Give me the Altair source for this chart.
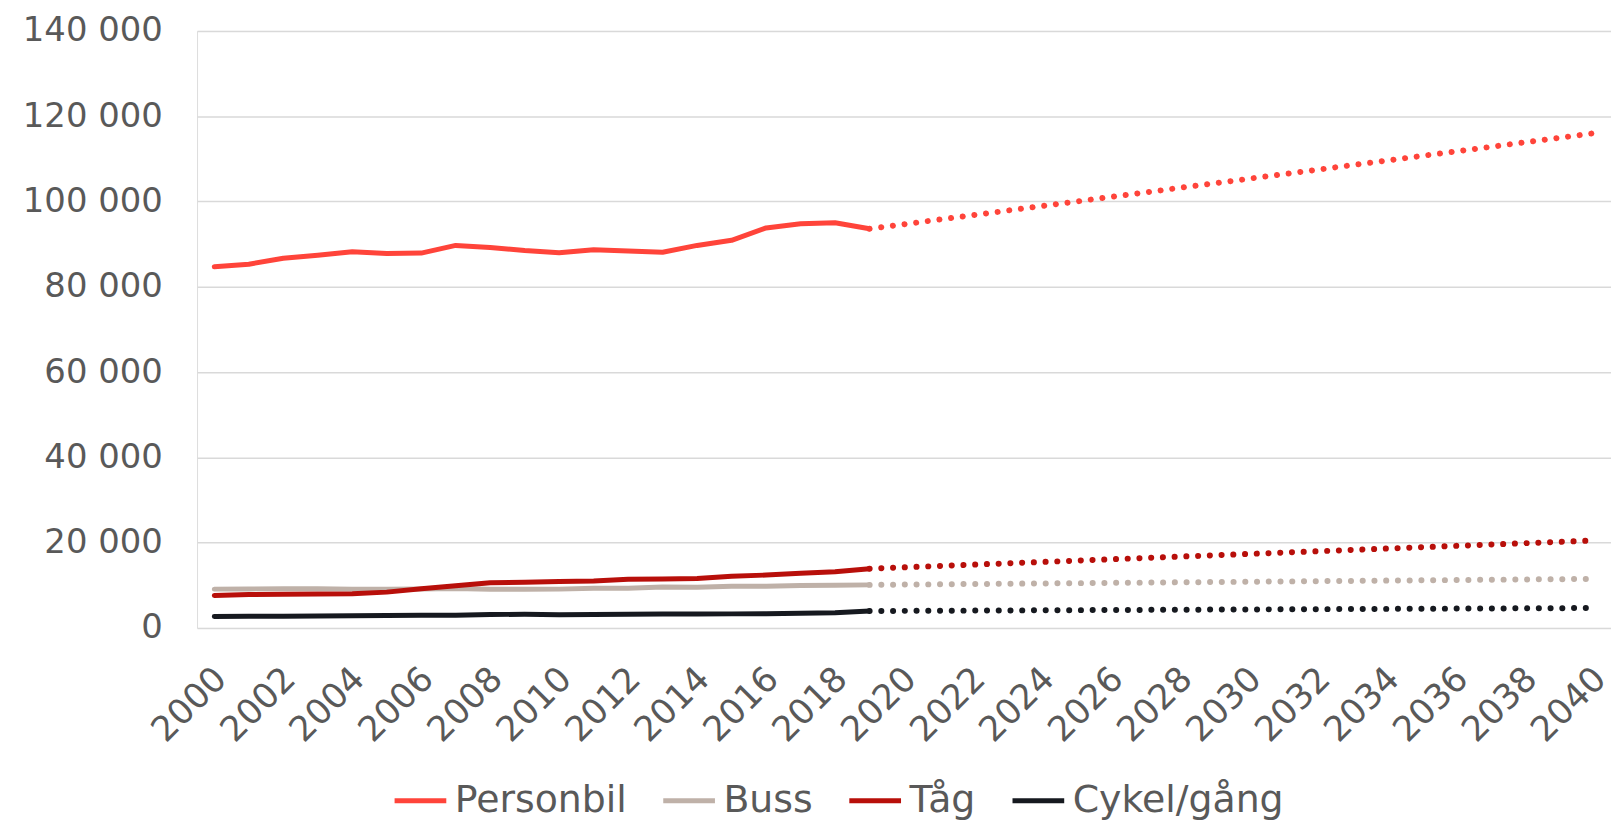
import altair as alt
import pandas as pd

series = ["Personbil", "Buss", "Tåg", "Cykel/gång"]
colors = ["#FF443A", "#BFB1A8", "#B80F0A", "#16191F"]

years_hist = list(range(2000, 2020))
personbil = [84700, 85300, 86700, 87400, 88200, 87800, 87900, 89700, 89200, 88500,
             88000, 88700, 88400, 88100, 89700, 90900, 93800, 94800, 95000, 93600]
buss = [9100, 9150, 9200, 9200, 9100, 9100, 9150, 9250, 9050, 9050,
        9100, 9300, 9300, 9600, 9550, 9750, 9800, 9950, 10000, 10100]
tag = [7600, 7850, 7900, 7950, 8000, 8400, 9200, 9900, 10600, 10700,
       10900, 11000, 11400, 11500, 11600, 12100, 12400, 12800, 13200, 13900]
cykel = [2700, 2720, 2750, 2800, 2850, 2900, 2950, 3000, 3150, 3200,
         3100, 3150, 3200, 3250, 3270, 3300, 3350, 3420, 3580, 3970]

years_fc = [2019, 2040]
personbil_fc = [93600, 116000]
buss_fc = [10100, 11500]
tag_fc = [13900, 20500]
cykel_fc = [3970, 4670]

all_years = list(range(2000, 2041))
tick_years = list(range(2000, 2041, 2))
y_ticks = list(range(0, 140001, 20000))

hist_rows = []
for name, vals in zip(series, [personbil, buss, tag, cykel]):
    for yr, v in zip(years_hist, vals):
        hist_rows.append({"year": yr, "value": v, "series": name})
fc_rows = []
for name, vals in zip(series, [personbil_fc, buss_fc, tag_fc, cykel_fc]):
    for yr, v in zip(years_fc, vals):
        fc_rows.append({"year": yr, "value": v, "series": name})

hist = pd.DataFrame(hist_rows)
fc = pd.DataFrame(fc_rows)

FONT = "DejaVu Sans"
TXT = "#595959"

x_enc = alt.X("year:O",
              scale=alt.Scale(type="point", domain=all_years, padding=0.5),
              axis=alt.Axis(values=tick_years, labelAngle=-45, title=None,
                            ticks=False, domain=False, grid=False,
                            labelFontSize=35, labelColor=TXT, labelFont=FONT,
                            labelPadding=33, labelOffset=-6))
y_enc = alt.Y("value:Q",
              scale=alt.Scale(domain=[0, 140000], nice=False),
              axis=alt.Axis(values=y_ticks, title=None, ticks=False, tickSize=0,
                            domain=False, grid=True, gridColor="#D9D9D9",
                            gridWidth=1.5, labelFontSize=34, labelColor=TXT,
                            labelFont=FONT, labelPadding=35,
                            labelExpr="replace(format(datum.value, ','), ',', ' ')"))
color_scale = alt.Scale(domain=series, range=colors)

solid = alt.Chart(hist).mark_line(strokeWidth=5, strokeCap="round", strokeJoin="round").encode(
    x=x_enc, y=y_enc,
    color=alt.Color("series:N", scale=color_scale, sort=series,
                    legend=alt.Legend(title=None, orient="none", direction="horizontal",
                                      columns=4, legendX=196, legendY=745,
                                      symbolType="stroke", symbolSize=2700,
                                      symbolStrokeWidth=5, labelFontSize=38,
                                      labelFont=FONT, labelColor=TXT, labelLimit=0,
                                      labelOffset=6, columnPadding=26)),
)

dotted = alt.Chart(fc).mark_line(strokeWidth=6, strokeCap="round",
                                 strokeDash=[0.1, 11.7]).encode(
    x=x_enc, y=y_enc,
    color=alt.Color("series:N", scale=color_scale, sort=series, legend=None),
)

chart = alt.layer(solid, dotted).properties(
    width=1421, height=600,
    autosize=alt.AutoSizeParams(type="none"),
    padding={"left": 190, "top": 21, "right": 0, "bottom": 193},
).configure_view(stroke=None).configure(font=FONT)

chart.save("out.html", embed_options={"renderer": "svg", "actions": False})
